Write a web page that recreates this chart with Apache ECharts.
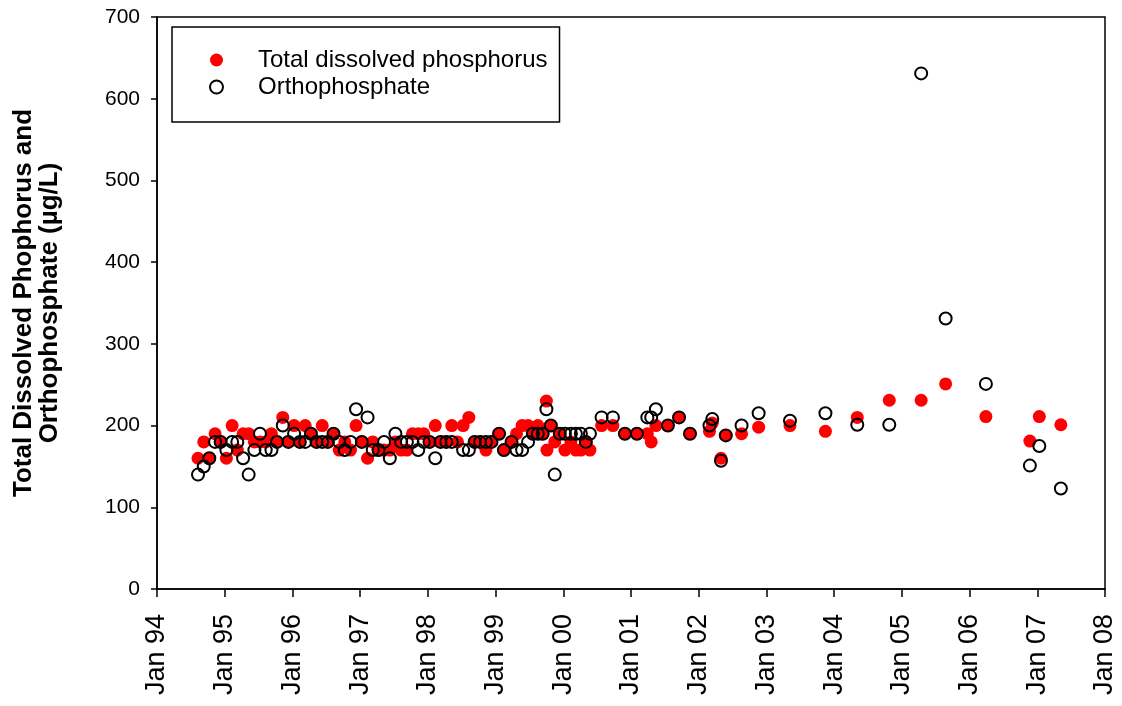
<!DOCTYPE html>
<html>
<head>
<meta charset="utf-8">
<script src="https://cdn.jsdelivr.net/npm/echarts@6/dist/echarts.min.js"></script>
<style>
  html, body { margin: 0; padding: 0; background: #fff; }
  #chart { width: 1122px; height: 706px; }
</style>
</head>
<body>
<div id="chart"></div>
<script>
// Sampling dates with total dissolved phosphorus and orthophosphate (µg/L)
const sampleDates = [
  '1994-08-10','1994-09-10','1994-10-10','1994-11-10','1994-12-10',
  '1995-01-10','1995-02-10','1995-03-10','1995-04-10','1995-05-10','1995-06-10',
  '1995-07-10','1995-08-10','1995-09-10','1995-10-10','1995-11-10','1995-12-10',
  '1996-01-10','1996-02-10','1996-03-10','1996-04-10','1996-05-10','1996-06-10',
  '1996-07-10','1996-08-10','1996-09-10','1996-10-10','1996-11-10','1996-12-10',
  '1997-01-10','1997-02-10','1997-03-10','1997-04-10','1997-05-10','1997-06-10',
  '1997-07-10','1997-08-10','1997-09-10','1997-10-10','1997-11-10','1997-12-10',
  '1998-01-10','1998-02-10','1998-03-10','1998-04-10','1998-05-10','1998-06-10',
  '1998-07-10','1998-08-10','1998-09-10','1998-10-10','1998-11-10','1998-12-10',
  '1999-01-20','1999-02-15','1999-03-28','1999-04-24','1999-05-24','1999-06-25',
  '1999-07-21','1999-08-17','1999-09-12','1999-10-02','1999-10-05','1999-10-26',
  '1999-11-16','1999-12-13',
  '2000-01-10','2000-02-11','2000-03-09','2000-04-05','2000-05-02','2000-05-24',
  '2000-07-26','2000-09-25','2000-11-29',
  '2001-02-02','2001-03-30','2001-04-20','2001-05-15','2001-07-19','2001-09-17','2001-11-15',
  '2002-02-28','2002-03-15','2002-05-01','2002-05-27','2002-08-20','2002-11-20',
  '2003-05-08','2003-11-15','2004-05-05','2004-10-25',
  '2005-04-15','2005-08-25','2006-03-30','2006-11-22','2007-01-12','2007-05-08'
];

const tdp = [
  160,180,160,190,180,
  160,200,170,190,190,180,
  180,180,190,180,210,180,
  200,180,200,190,180,200,
  180,190,170,180,170,200,
  180,160,180,170,170,170,
  180,170,170,190,190,190,
  180,200,180,180,200,180,
  200,210,180,180,170,180,
  190,170,180,190,200,200,
  190,200,190,230,170,200,
  180,190,
  170,180,170,170,180,170,
  200,200,190,
  190,190,180,200,200,210,190,
  193,203,160,188,190,198,
  200,193,210,231,
  231,251,211,181,211,201
];

const ortho = [
  140,150,160,180,180,
  170,180,180,160,140,170,
  190,170,170,180,200,180,
  190,180,180,190,180,180,
  180,190,180,170,180,220,
  180,210,170,170,180,160,
  190,180,180,180,170,180,
  180,160,180,180,180,null,
  170,170,180,180,180,180,
  190,170,180,170,170,180,
  190,190,190,220,null,200,
  140,190,
  190,190,190,190,180,190,
  210,210,190,
  190,210,210,220,200,210,190,
  200,208,157,188,200,215,
  206,215,201,201,
  631,331,251,151,175,123
];

const yearTicks = [1994,1995,1996,1997,1998,1999,2000,2001,2002,2003,2004,2005,2006,2007,2008];

// Date string -> decimal year
function toYear(s) {
  const d = Date.parse(s + 'T00:00:00Z');
  const y = new Date(d).getUTCFullYear();
  const a = Date.UTC(y, 0, 1), b = Date.UTC(y + 1, 0, 1);
  return y + (d - a) / (b - a);
}

function pairs(values) {
  const out = [];
  sampleDates.forEach((d, i) => {
    if (values[i] !== null) out.push([toYear(d), values[i]]);
  });
  return out;
}

const FONT = 'Liberation Sans, Arial, sans-serif';
const chart = echarts.init(document.getElementById('chart'), null, { renderer: 'canvas' });

chart.setOption({
  animation: false,
  backgroundColor: '#fff',
  grid: {
    left: 157, right: 17, top: 17, bottom: 117,
    show: true, borderColor: '#000', borderWidth: 1.5, backgroundColor: 'transparent'
  },
  legend: {
    orient: 'vertical',
    left: 172, top: 27,
    padding: [20, 12, 22, 37],
    borderColor: '#000', borderWidth: 1.5,
    itemWidth: 13, itemHeight: 13, itemGap: 1,
    textStyle: { fontFamily: FONT, fontSize: 24, color: '#000', lineHeight: 26, padding: [0, 0, 0, 30] },
    data: ['Total dissolved phosphorus', 'Orthophosphate']
  },
  xAxis: {
    type: 'value',
    min: yearTicks[0], max: yearTicks[yearTicks.length - 1], interval: 1,
    splitLine: { show: false },
    axisLine: { show: true, lineStyle: { color: '#000', width: 1.5 } },
    axisTick: { show: true, inside: false, length: 8, lineStyle: { color: '#000', width: 1.5 } },
    axisLabel: {
      rotate: 90, margin: 25,
      fontFamily: FONT, fontSize: 27, color: '#000',
      formatter: v => 'Jan ' + String(Math.round(v)).slice(2)
    }
  },
  yAxis: {
    type: 'value', min: 0, max: 700, interval: 100,
    name: 'Total Dissolved Phophorus and\nOrthophosphate (µg/L)',
    nameLocation: 'middle', nameGap: 94, nameRotate: 90,
    nameTextStyle: { fontFamily: FONT, fontSize: 26, fontWeight: 'bold', color: '#000', lineHeight: 26 },
    splitLine: { show: false },
    axisLine: { show: true, lineStyle: { color: '#000', width: 1.5 } },
    axisTick: { show: true, inside: false, length: 6, lineStyle: { color: '#000', width: 1.5 } },
    axisLabel: { margin: 17, fontFamily: FONT, fontSize: 21, color: '#000' }
  },
  series: [
    {
      name: 'Total dissolved phosphorus',
      type: 'scatter',
      symbol: 'circle', symbolSize: 13,
      itemStyle: { color: '#ff0000', opacity: 1 },
      data: pairs(tdp),
      z: 2
    },
    {
      name: 'Orthophosphate',
      type: 'scatter',
      symbol: 'circle', symbolSize: 12,
      itemStyle: { color: 'rgba(0,0,0,0)', borderColor: '#000', borderWidth: 2, opacity: 1 },
      data: pairs(ortho),
      z: 3
    }
  ]
});
</script>
</body>
</html>
